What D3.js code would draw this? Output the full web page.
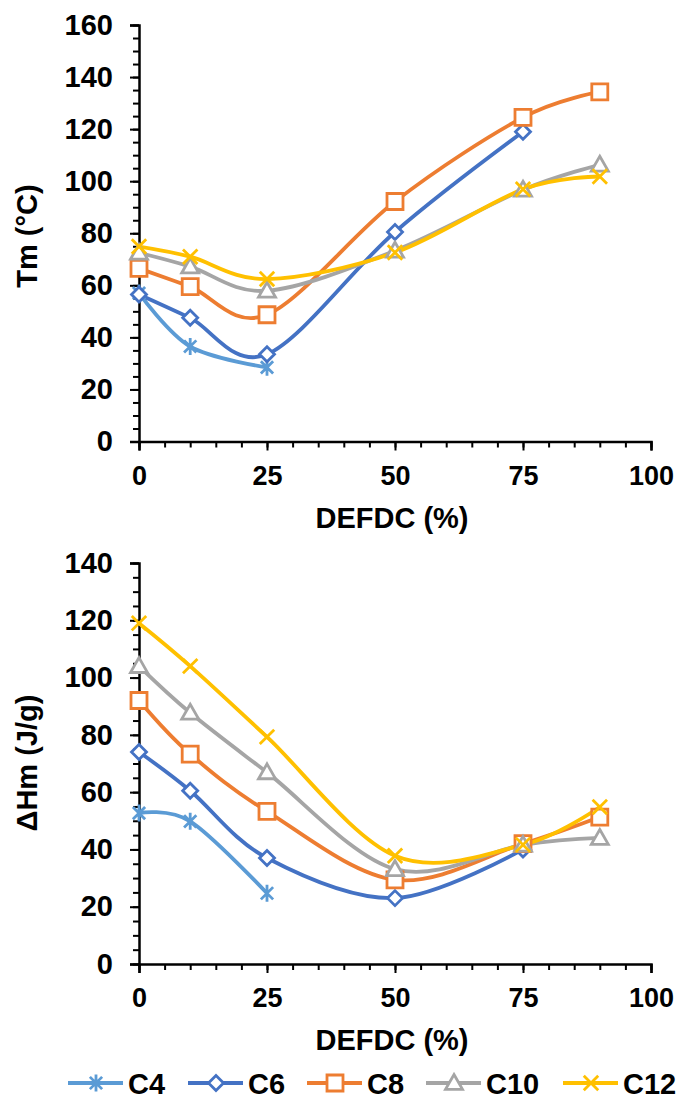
<!DOCTYPE html>
<html><head><meta charset="utf-8">
<script src="https://cdn.jsdelivr.net/npm/d3@7"></script>
<style>body{margin:0;background:#fff}svg{display:block}text{font-family:"Liberation Sans",Arial,sans-serif;font-weight:bold;fill:#000}</style>
</head><body>
<svg id="c" width="692" height="1109"></svg>
<script>
const xVals = [0, 10, 25, 50, 75, 90];
const seriesNames = ["C4", "C6", "C8", "C10", "C12"];
const seriesColors = ["#5B9BD5", "#4472C4", "#ED7D31", "#A5A5A5", "#FFC000"];
const seriesMarkers = ["star", "diamond", "square", "triangle", "x"];
// Tm (°C)
const tmC4  = [57, 36.5, 28.5, null, null, null];
const tmC6  = [56.5, 47.5, 33.5, 80.5, 119, null];
const tmC8  = [66.5, 59.5, 48.7, 92.2, 124.5, 134.3];
const tmC10 = [72.5, 67.2, 57.9, 73.3, 96.7, 106.3];
const tmC12 = [74.9, 71, 62.4, 72.6, 96.9, 101.8];
// ΔHm (J/g)
const hmC4  = [52.7, 49.8, 24.7, null, null, null];
const hmC6  = [74, 60.5, 37, 23, 40, null];
const hmC8  = [92, 73.3, 53.3, 29.4, 42, 51.3];
const hmC10 = [104, 87.7, 66.9, 33.1, 41.6, 44];
const hmC12 = [119, 104, 79.3, 37.8, 41.6, 54.8];
const xTicks = [0, 25, 50, 75, 100];
const tmTicks = [0, 20, 40, 60, 80, 100, 120, 140, 160];
const hmTicks = [0, 20, 40, 60, 80, 100, 120, 140];

const svg = d3.select("#c");
const x = d3.scaleLinear().domain([0, 100]).range([139, 651]);

function markerPath(type, r) {
  switch (type) {
    case "star": { const d = r * 0.72; return `M0,${-r}L0,${r}M${-d},${-d}L${d},${d}M${-d},${d}L${d},${-d}`; }
    case "diamond": return `M0,${-r}L${r},0L0,${r}L${-r},0Z`;
    case "square": return `M${-r},${-r}H${r}V${r}H${-r}Z`;
    case "triangle": return `M0,${-r}L${r},${r * 0.75}H${-r}Z`;
    case "x": { const d = r * 0.85; return `M${-d},${-d}L${d},${d}M${-d},${d}L${d},${-d}`; }
  }
}
const markerSize = [8.5, 7.5, 8, 8.5, 8.5];

function styleText(sel, size) {
  sel.style("font-size", size + "px").style("font-family", "Liberation Sans, Arial").style("font-weight", "bold").attr("fill", "#000");
}

function drawChart(yDomain, yRange, yTicks, data, yTitle, titleY) {
  const y = d3.scaleLinear().domain(yDomain).range(yRange);
  const g = svg.append("g");
  const yMin = g.append("g").attr("transform", `translate(${x(0)},0)`)
    .call(d3.axisLeft(y).tickValues(d3.range(yDomain[0], yDomain[1] + 0.1, 5)).tickSize(6).tickFormat(""));
  yMin.selectAll(".tick line").attr("stroke-width", 2);
  yMin.select(".domain").remove();
  const yMaj = g.append("g").attr("transform", `translate(${x(0)},0)`)
    .call(d3.axisLeft(y).tickValues(yTicks).tickSize(9).tickPadding(17).tickFormat(d3.format("d")));
  yMaj.selectAll(".tick line").attr("stroke-width", 2);
  yMaj.select(".domain").attr("stroke-width", 2.5);
  styleText(yMaj.selectAll("text"), 29);

  const xMin = g.append("g").attr("transform", `translate(0,${y(0)})`)
    .call(d3.axisBottom(x).tickValues(d3.range(0, 101, 5)).tickSize(6).tickFormat(""));
  xMin.select(".domain").remove();
  xMin.selectAll(".tick line").attr("stroke-width", 2);
  const xMaj = g.append("g").attr("transform", `translate(0,${y(0)})`)
    .call(d3.axisBottom(x).tickValues(xTicks).tickSize(9).tickPadding(15).tickFormat(d3.format("d")));
  xMaj.select(".domain").attr("stroke-width", 2.5);
  xMaj.selectAll(".tick line").attr("stroke-width", 2);
  styleText(xMaj.selectAll("text"), 27);

  g.append("text").attr("x", (x(0) + x(100)) / 2 - 3).attr("y", y(0) + 86)
    .attr("text-anchor", "middle").style("font-size", "29px").text("DEFDC (%)");
  g.append("text").attr("transform", `translate(37,${titleY}) rotate(-90)`)
    .attr("text-anchor", "middle").style("font-size", "29px").text(yTitle);

  const line = d3.line().x(d => x(d[0])).y(d => y(d[1])).curve(d3.curveCardinal.tension(0));
  data.forEach((vals, i) => {
    const pts = xVals.map((xv, k) => [xv, vals[k]]).filter(p => p[1] != null);
    g.append("path").attr("d", line(pts)).attr("fill", "none").attr("stroke", seriesColors[i]).attr("stroke-width", 3.8);
  });
  data.forEach((vals, i) => {
    const pts = xVals.map((xv, k) => [xv, vals[k]]).filter(p => p[1] != null);
    g.selectAll(null).data(pts).enter().append("path")
      .attr("transform", d => `translate(${x(d[0])},${y(d[1])})`)
      .attr("d", markerPath(seriesMarkers[i], markerSize[i]))
      .attr("fill", seriesMarkers[i] === "star" || seriesMarkers[i] === "x" ? "none" : "#fff")
      .attr("stroke", seriesColors[i]).attr("stroke-width", 2.8);
  });
}

drawChart([0, 160], [441.5, 25], tmTicks, [tmC4, tmC6, tmC8, tmC10, tmC12], "Tm (°C)", 236);
drawChart([0, 140], [964, 563], hmTicks, [hmC4, hmC6, hmC8, hmC10, hmC12], "ΔHm (J/g)", 763);

// legend
const legX = [68, 188, 307, 426, 563];
const lg = svg.append("g");
seriesNames.forEach((n, i) => {
  const gx = legX[i], gy = 1083;
  lg.append("line").attr("x1", gx).attr("x2", gx + 55).attr("y1", gy).attr("y2", gy).attr("stroke", seriesColors[i]).attr("stroke-width", 3.8);
  lg.append("path").attr("transform", `translate(${gx + 28},${gy})`).attr("d", markerPath(seriesMarkers[i], markerSize[i]))
    .attr("fill", seriesMarkers[i] === "star" || seriesMarkers[i] === "x" ? "none" : "#fff")
    .attr("stroke", seriesColors[i]).attr("stroke-width", 2.8);
  lg.append("text").attr("x", gx + 60).attr("y", gy + 11).style("font-size", "29px").text(n);
});
</script>
</body></html>
